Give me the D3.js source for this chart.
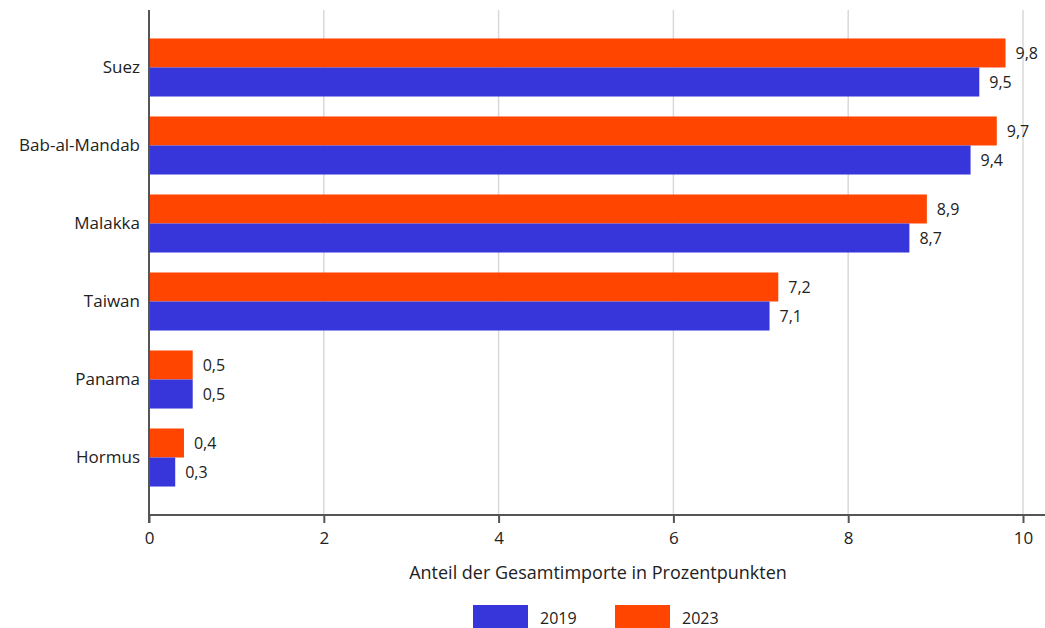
<!DOCTYPE html>
<html>
<head>
<meta charset="utf-8">
<script src="https://cdn.jsdelivr.net/npm/d3@7"></script>
<style>
  body { margin: 0; background: #fff; }
  svg { display: block; font-family: "Open Sans", "Noto Sans", sans-serif; }
</style>
</head>
<body>
<svg id="chart"></svg>
<script>
// data
const routes = ['Suez', 'Bab-al-Mandab', 'Malakka', 'Taiwan', 'Panama', 'Hormus'];
const years = ['2023', '2019'];
const values2023 = [9.8, 9.7, 8.9, 7.2, 0.5, 0.4];
const values2019 = [9.5, 9.4, 8.7, 7.1, 0.5, 0.3];
const xTicks = [0, 2, 4, 6, 8, 10];
const axisTitle = 'Anteil der Gesamtimporte in Prozentpunkten';
const legendYears = ['2019', '2023'];

const width = 1045, height = 628;
const margin = {top: 10, right: 22, bottom: 113, left: 149};
const colors = {'2019': '#3636da', '2023': '#ff4500'};
const font = '"Open Sans", "Noto Sans", sans-serif';

const rows = routes.map((r, i) => ({route: r, '2023': values2023[i], '2019': values2019[i]}));

const svg = d3.select('#chart').attr('width', width).attr('height', height);
const g = svg.append('g').attr('transform', `translate(${margin.left},${margin.top})`);
const w = width - margin.left - margin.right;
const h = height - margin.top - margin.bottom;

const x = d3.scaleLinear().domain([0, 10]).range([0, w]);
const y = d3.scaleBand().domain(routes).range([0, h]).paddingInner(0.256).paddingOuter(0.365);
const y1 = d3.scaleBand().domain(years).range([0, y.bandwidth()]);

// gridlines
g.append('g').selectAll('line').data(xTicks.filter(d => d > 0)).join('line')
  .attr('x1', d => x(d)).attr('x2', d => x(d))
  .attr('y1', 0).attr('y2', h)
  .attr('stroke', '#d9d9d9').attr('stroke-width', 1.5);

// bars
const groups = g.append('g').selectAll('g').data(rows).join('g')
  .attr('transform', d => `translate(0,${y(d.route)})`);

groups.selectAll('rect').data(d => years.map(k => ({key: k, value: d[k]}))).join('rect')
  .attr('x', 0)
  .attr('y', d => y1(d.key))
  .attr('width', d => x(d.value))
  .attr('height', y1.bandwidth())
  .attr('fill', d => colors[d.key]);

groups.selectAll('text').data(d => years.map(k => ({key: k, value: d[k]}))).join('text')
  .attr('x', d => x(d.value) + 10)
  .attr('y', d => y1(d.key) + y1.bandwidth() / 2)
  .attr('dy', '0.35em')
  .attr('font-size', 16)
  .attr('fill', '#222')
  .text(d => d3.format('.1f')(d.value).replace('.', ','));

// x axis
const xAxis = g.append('g').attr('transform', `translate(0,${h})`)
  .call(d3.axisBottom(x).tickValues(xTicks).tickSize(8).tickPadding(9).tickFormat(d3.format('d')));
xAxis.select('.domain').remove();
xAxis.append('line').attr('x1', 0).attr('x2', width - margin.left).attr('stroke', '#555').attr('stroke-width', 2);
xAxis.selectAll('.tick line').attr('stroke', '#555').attr('stroke-width', 2);
xAxis.selectAll('.tick text').attr('font-size', 17).attr('fill', '#222').style('font-family', font);

// y axis
const yAxis = g.append('g')
  .call(d3.axisLeft(y).tickSize(0).tickPadding(9));
yAxis.select('.domain').remove();
g.append('line').attr('x1', 0).attr('x2', 0).attr('y1', 0).attr('y2', h + 8)
  .attr('stroke', '#555').attr('stroke-width', 2);
yAxis.selectAll('.tick text').attr('font-size', 17).attr('fill', '#222').style('font-family', font);

// axis title
svg.append('text')
  .attr('x', 598).attr('y', 579)
  .attr('text-anchor', 'middle')
  .attr('font-size', 18)
  .attr('fill', '#222')
  .text(axisTitle);

// legend
const legend = svg.append('g').attr('transform', 'translate(473,605)');
const li = legend.selectAll('g').data(legendYears).join('g')
  .attr('transform', (d, i) => `translate(${i * 142},0)`);
li.append('rect').attr('width', 55).attr('height', 24).attr('fill', d => colors[d]);
li.append('text').attr('x', 67).attr('y', 13).attr('dy', '0.35em')
  .attr('font-size', 16).attr('fill', '#222').text(d => d);
</script>
</body>
</html>
